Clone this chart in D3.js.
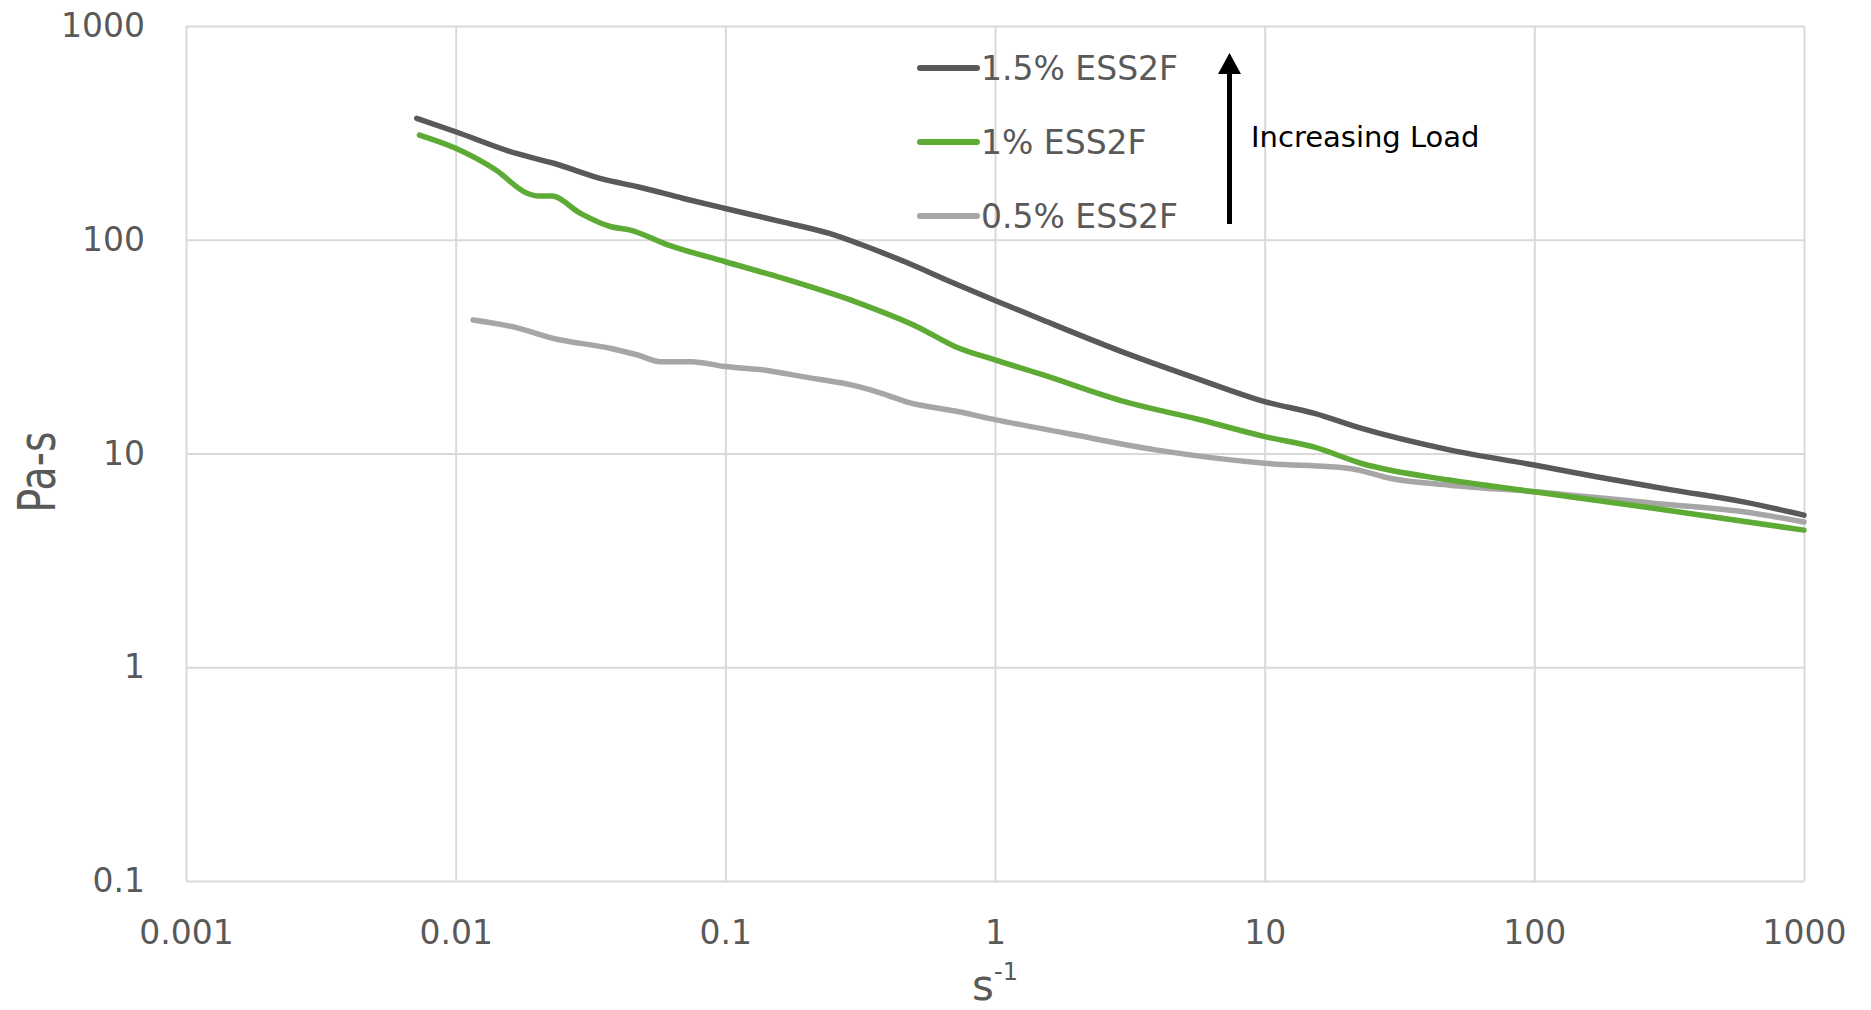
<!DOCTYPE html>
<html>
<head>
<meta charset="utf-8">
<script src="https://cdn.jsdelivr.net/npm/d3@7"></script>
<style>
  body { margin: 0; background: #ffffff; }
  svg text { font-family: "DejaVu Sans", sans-serif; }
</style>
</head>
<body>
<div id="chart"></div>
<script>
// Viscosity vs shear rate, log-log

// Data
var shear15 = [0.00717, 0.01, 0.01665, 0.0231, 0.0352, 0.0473, 0.070, 0.1, 0.164, 0.243, 0.315, 0.473, 0.684, 1, 1.45, 3.07, 5.61, 10, 15.3, 22.9, 48.4, 100, 170, 327, 596, 1000];
var visc15 = [370, 320, 254, 228, 192, 177, 156, 140, 121, 107, 95.5, 78, 63.6, 52, 42.9, 29.4, 22.4, 17.5, 15.4, 13.1, 10.4, 8.83, 7.78, 6.74, 5.94, 5.15];

var shear10 = [0.00734, 0.01, 0.0141, 0.0184, 0.0203, 0.0227, 0.029, 0.0377, 0.0444, 0.0616, 0.1, 0.164, 0.315, 0.514, 0.713, 1, 1.45, 3.07, 5.61, 10, 15.3, 22.9, 48.4, 100, 281, 1000];
var visc10 = [309, 268, 212, 165, 160, 160, 133, 115, 111, 94.4, 78.9, 65.9, 50.4, 39.2, 31.6, 27.4, 23.7, 17.4, 14.5, 12.0, 10.7, 8.98, 7.51, 6.62, 5.53, 4.38];

var shear05 = [0.0116, 0.01665, 0.0231, 0.0377, 0.0473, 0.0575, 0.0748, 0.1, 0.139, 0.193, 0.315, 0.385, 0.473, 0.711, 1, 1.86, 3.95, 10, 20.7, 29.4, 48.4, 100, 281, 596, 1000];
var visc05 = [42.1, 38.9, 34.5, 31.0, 28.9, 26.9, 26.9, 25.5, 24.6, 22.9, 20.5, 19.0, 17.4, 15.8, 14.4, 12.4, 10.4, 9.0, 8.51, 7.64, 7.11, 6.62, 5.84, 5.34, 4.78];

var seriesNames = ["1.5% ESS2F", "1% ESS2F", "0.5% ESS2F"];
var seriesColors = ["#595959", "#5dab35", "#a6a6a6"];

var xTicks = [0.001, 0.01, 0.1, 1, 10, 100, 1000];
var yTicks = [0.1, 1, 10, 100, 1000];

var width = 1871;
var height = 1010;

var margin = {
  top: 26,
  left: 186,
  right: 67,
  bottom: 129
};

var innerW = width - margin.left - margin.right;
var innerH = height - margin.top - margin.bottom;

var svg = d3.select('#chart')
  .append('svg')
  .attr('width', width)
  .attr('height', height);

var g = svg.append('g')
  .attr('transform', 'translate(' + margin.left + ',' + margin.top + ')');

var x_scale = d3.scaleLog()
  .domain([0.001, 1000])
  .range([0, innerW]);

var y_scale = d3.scaleLog()
  .domain([0.1, 1000])
  .range([innerH, 0]);

function fmt(d) {
  return String(d);
}

// gridlines
g.append('g')
  .attr('class', 'grid')
  .attr('transform', 'translate(0,' + innerH + ')')
  .call(d3.axisBottom(x_scale).tickValues(xTicks).tickSize(-innerH).tickFormat(''))
  .call(function(s) { s.select('.domain').remove(); });

g.append('g')
  .attr('class', 'grid')
  .call(d3.axisLeft(y_scale).tickValues(yTicks).tickSize(-innerW).tickFormat(''))
  .call(function(s) { s.select('.domain').remove(); });

g.selectAll('.grid line')
  .attr('stroke', '#d9d9d9')
  .attr('stroke-width', 2);

// tick labels
var xAxis = g.append('g')
  .attr('transform', 'translate(0,' + innerH + ')')
  .call(d3.axisBottom(x_scale).tickValues(xTicks).tickSize(0).tickPadding(40).tickFormat(fmt));

var yAxis = g.append('g')
  .call(d3.axisLeft(y_scale).tickValues(yTicks).tickSize(0).tickPadding(41).tickFormat(fmt));

[xAxis, yAxis].forEach(function(a) {
  a.select('.domain').remove();
  a.selectAll('text')
    .attr('fill', '#595959')
    .style('font-size', '33px');
});

// lines
var line = d3.line()
  .x(function(d) { return x_scale(d[0]); })
  .y(function(d) { return y_scale(d[1]); })
  .curve(d3.curveMonotoneX);

var series = [
  d3.zip(shear05, visc05),
  d3.zip(shear10, visc10),
  d3.zip(shear15, visc15)
];
var order = [2, 1, 0];

series.forEach(function(s, i) {
  g.append('path')
    .datum(s)
    .attr('fill', 'none')
    .attr('stroke', seriesColors[order[i]])
    .attr('stroke-width', 5.5)
    .attr('stroke-linecap', 'round')
    .attr('stroke-linejoin', 'round')
    .attr('d', line);
});

// legend
var legend = svg.append('g')
  .attr('transform', 'translate(920,68)');

seriesNames.forEach(function(name, i) {
  legend.append('line')
    .attr('x1', 0).attr('x2', 57)
    .attr('y1', i * 74).attr('y2', i * 74)
    .attr('stroke', seriesColors[i])
    .attr('stroke-width', 6)
    .attr('stroke-linecap', 'round');
  legend.append('text')
    .attr('x', 61)
    .attr('y', i * 74)
    .attr('dy', '0.35em')
    .attr('fill', '#595959')
    .style('font-size', '33px')
    .text(name);
});

// arrow annotation
svg.append('line')
  .attr('x1', 1229.5).attr('x2', 1229.5)
  .attr('y1', 224).attr('y2', 70)
  .attr('stroke', '#000')
  .attr('stroke-width', 5);

svg.append('path')
  .attr('d', 'M1229.5,53 L1241,74 L1218,74 Z')
  .attr('fill', '#000');

svg.append('text')
  .attr('x', 1251)
  .attr('y', 147)
  .attr('fill', '#000')
  .style('font-size', '29px')
  .text('Increasing Load');

// axis titles
svg.append('text')
  .attr('transform', 'translate(55,472) rotate(-90)')
  .attr('text-anchor', 'middle')
  .attr('fill', '#595959')
  .attr('textLength', 81)
  .attr('lengthAdjust', 'spacingAndGlyphs')
  .style('font-size', '51px')
  .text('Pa-s');

var xt = svg.append('text')
  .attr('x', margin.left + innerW / 2)
  .attr('y', 1000)
  .attr('text-anchor', 'middle')
  .attr('fill', '#595959')
  .style('font-size', '42px');
xt.append('tspan').text('s');
xt.append('tspan')
  .attr('dy', -20)
  .style('font-size', '24px')
  .text('-1');
</script>
</body>
</html>
